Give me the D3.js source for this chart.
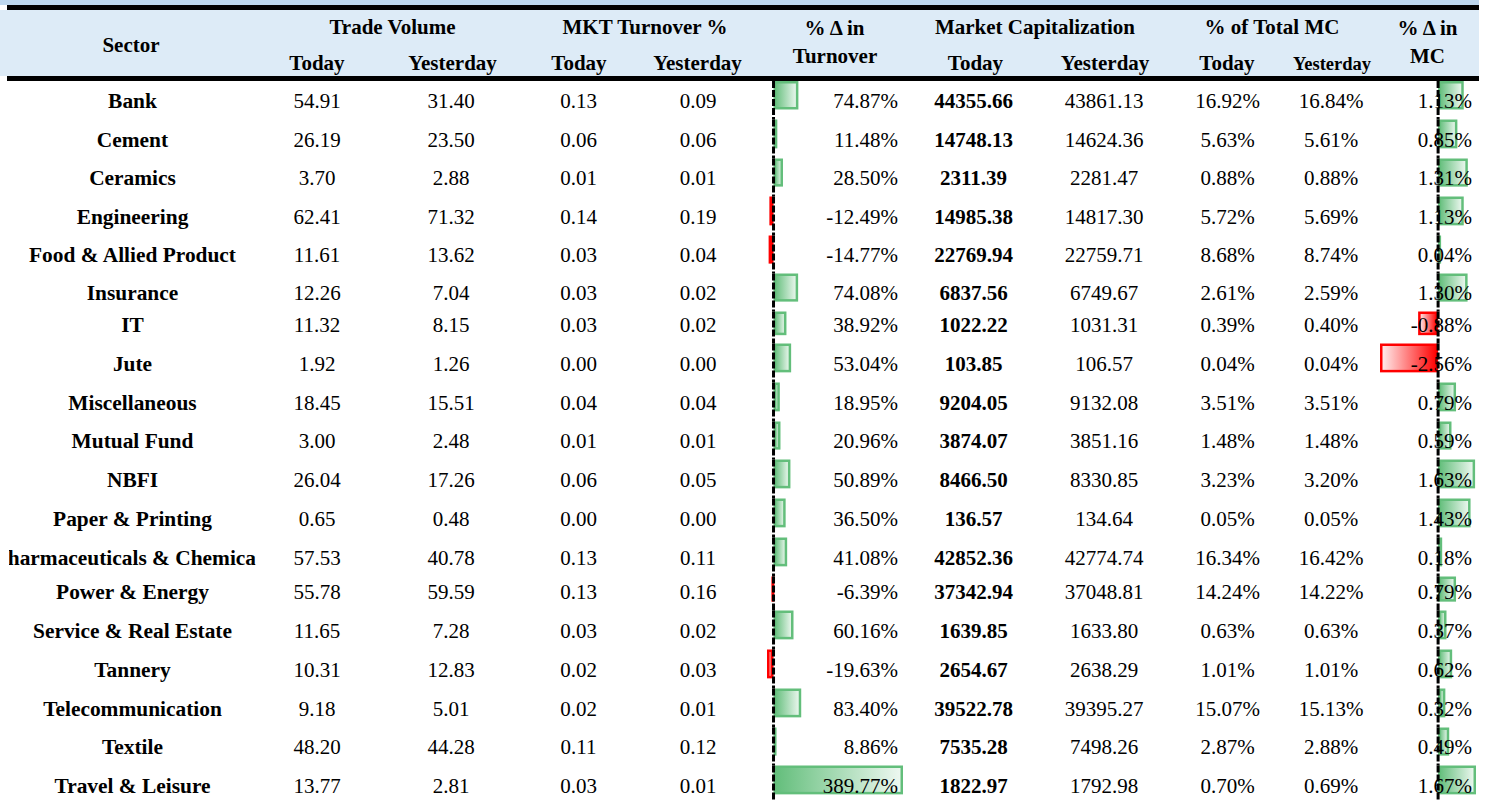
<!DOCTYPE html>
<html>
<head>
<meta charset="utf-8">
<script src="https://cdn.jsdelivr.net/npm/d3@7"></script>
<style>
  html, body { margin: 0; padding: 0; background: #fff; }
  svg { display: block; }
  text { font-family: "Liberation Serif", "Times New Roman", serif; fill: #000; }
</style>
</head>
<body>
<svg id="chart" width="1487" height="800"></svg>
<script>
// ---------------- DATA ----------------
const sectors = ["Bank","Cement","Ceramics","Engineering","Food & Allied Product","Insurance","IT","Jute",
  "Miscellaneous","Mutual Fund","NBFI","Paper & Printing","Pharmaceuticals & Chemicals","Power & Energy",
  "Service & Real Estate","Tannery","Telecommunication","Textile","Travel & Leisure"];
const tradeVolumeToday     = [54.91,26.19,3.70,62.41,11.61,12.26,11.32,1.92,18.45,3.00,26.04,0.65,57.53,55.78,11.65,10.31,9.18,48.20,13.77];
const tradeVolumeYesterday = [31.40,23.50,2.88,71.32,13.62,7.04,8.15,1.26,15.51,2.48,17.26,0.48,40.78,59.59,7.28,12.83,5.01,44.28,2.81];
const turnoverPctToday     = [0.13,0.06,0.01,0.14,0.03,0.03,0.03,0.00,0.04,0.01,0.06,0.00,0.13,0.13,0.03,0.02,0.02,0.11,0.03];
const turnoverPctYesterday = [0.09,0.06,0.01,0.19,0.04,0.02,0.02,0.00,0.04,0.01,0.05,0.00,0.11,0.16,0.02,0.03,0.01,0.12,0.01];
const turnoverChange       = [74.87,11.48,28.50,-12.49,-14.77,74.08,38.92,53.04,18.95,20.96,50.89,36.50,41.08,-6.39,60.16,-19.63,83.40,8.86,389.77];
const mcToday     = [44355.66,14748.13,2311.39,14985.38,22769.94,6837.56,1022.22,103.85,9204.05,3874.07,8466.50,136.57,42852.36,37342.94,1639.85,2654.67,39522.78,7535.28,1822.97];
const mcYesterday = [43861.13,14624.36,2281.47,14817.30,22759.71,6749.67,1031.31,106.57,9132.08,3851.16,8330.85,134.64,42774.74,37048.81,1633.80,2638.29,39395.27,7498.26,1792.98];
const mcSharePctToday     = [16.92,5.63,0.88,5.72,8.68,2.61,0.39,0.04,3.51,1.48,3.23,0.05,16.34,14.24,0.63,1.01,15.07,2.87,0.70];
const mcSharePctYesterday = [16.84,5.61,0.88,5.69,8.74,2.59,0.40,0.04,3.51,1.48,3.20,0.05,16.42,14.22,0.63,1.01,15.13,2.88,0.69];
const mcChange = [1.13,0.85,1.31,1.13,0.04,1.30,-0.88,-2.56,0.79,0.59,1.63,1.43,0.18,0.79,0.37,0.62,0.32,0.49,1.67];

// header labels
const groupHeaders = ["Trade Volume","MKT Turnover %","Market Capitalization","% of Total MC"];
const subHeaders = ["Today","Yesterday"];

// ---------------- LAYOUT ----------------
const rowHeights = [38.5,39,38,39,38,38,32,39,39,38,39,39,39,34,39,39,39,38,39];
const bodyTop = 81;
const tops = [];
rowHeights.reduce((acc, h) => { tops.push(acc); return acc + h; }, bodyTop);
const yTop = d3.scaleOrdinal().domain(sectors).range(tops);
const hOf = d3.scaleOrdinal().domain(sectors).range(rowHeights);

const svg = d3.select("#chart");
const locale = d3.formatLocale({decimal: ".", thousands: ",", grouping: [3], currency: ["", ""], minus: "-"});
const fmt2 = locale.format(".2f");
const pct = v => fmt2(v) + "%";
const FS = 21;

// header backgrounds
svg.append("rect").attr("x",0).attr("y",0).attr("width",1479).attr("height",5).attr("fill","#bdd7ee");
svg.append("rect").attr("x",0).attr("y",10).attr("width",1479).attr("height",66).attr("fill","#ddebf7");
svg.append("rect").attr("x",7).attr("y",5).attr("width",1472).attr("height",5).attr("fill","#000");
svg.append("rect").attr("x",7).attr("y",76).attr("width",1472).attr("height",5).attr("fill","#000");

// header text
const hdr = svg.append("g").attr("font-weight","bold").attr("font-size",FS).attr("text-anchor","middle");
hdr.append("text").attr("x",131).attr("y",51.5).text("Sector");
const groupX = [392.5, 645, 1035, 1272];
groupHeaders.forEach((g,i)=> hdr.append("text").attr("x",groupX[i]).attr("y",34).text(g));
const subX = [[317,452.5],[579,697.5],[975.5,1105],[1227,1332]];
subX.forEach((pair,gi)=> pair.forEach((x,si)=> {
  const t = hdr.append("text").attr("x",x).attr("y",69.5).text(subHeaders[si]);
  if (gi === 3 && si === 1) t.attr("font-size",18.5);
}));
hdr.append("text").attr("x",834.5).attr("y",35).text("% \u0394 in");
hdr.append("text").attr("x",835).attr("y",63.3).text("Turnover");
hdr.append("text").attr("x",1427.5).attr("y",35).text("% \u0394 in");
hdr.append("text").attr("x",1427.5).attr("y",63.3).text("MC");

// gradients
const defs = svg.append("defs");
const gPos = defs.append("linearGradient").attr("id","gpos").attr("x1","0").attr("x2","1").attr("y1","0").attr("y2","0");
gPos.append("stop").attr("offset","0").attr("stop-color","#63be7b");
gPos.append("stop").attr("offset","1").attr("stop-color","#eef8f1");
const gNeg = defs.append("linearGradient").attr("id","gneg").attr("x1","0").attr("x2","1").attr("y1","0").attr("y2","0");
gNeg.append("stop").attr("offset","0").attr("stop-color","#fff0f0");
gNeg.append("stop").attr("offset","1").attr("stop-color","#ff0000");
defs.append("clipPath").attr("id","sectorClip").append("rect").attr("x",9).attr("y",0).attr("width",246.5).attr("height",800);

// scales for data bars (Excel-like: axis placed proportionally)
const xTurn = d3.scaleLinear().domain(d3.extent(turnoverChange)).range([767, 903]);
const xMc = d3.scaleLinear().domain(d3.extent(mcChange)).range([1380, 1476]);

const rows = sectors.map((s,i)=>({s,i}));
const baseline = d => yTop(d.s) + hOf(d.s) - 12;
const barH = d => hOf(d.s) * 0.74;

function drawBars(values, x) {
  const g = svg.append("g");
  g.selectAll("rect").data(rows).join("rect")
    .attr("x", d => Math.min(x(0), x(values[d.i])) + 1.25)
    .attr("y", d => yTop(d.s) + 1.25)
    .attr("width", d => Math.max(0.5, Math.abs(x(values[d.i]) - x(0)) - 2.5))
    .attr("height", d => barH(d) - 2.5)
    .attr("fill", d => values[d.i] >= 0 ? "url(#gpos)" : "url(#gneg)")
    .attr("stroke", d => values[d.i] >= 0 ? "#63be7b" : "#ff0000")
    .attr("stroke-width", 2.5);
}
drawBars(turnoverChange, xTurn);
drawBars(mcChange, xMc);

// body text
function col(values, x, opts = {}) {
  const g = svg.append("g").attr("font-size", opts.fs || FS)
    .attr("text-anchor", opts.anchor || "middle")
    .attr("font-weight", opts.bold ? "bold" : "normal");
  if (opts.clip) g.attr("clip-path", "url(#sectorClip)");
  g.selectAll("text").data(rows).join("text")
    .attr("x", x).attr("y", baseline)
    .text(d => opts.f ? opts.f(values[d.i]) : values[d.i]);
}
col(sectors, 132.5, {bold:true, clip:true, fs:21.4});
col(tradeVolumeToday, 317, {f:fmt2});
col(tradeVolumeYesterday, 451, {f:fmt2});
col(turnoverPctToday, 578.5, {f:fmt2});
col(turnoverPctYesterday, 698, {f:fmt2});
col(turnoverChange, 898, {f:pct, anchor:"end"});
col(mcToday, 973.5, {f:fmt2, bold:true});
col(mcYesterday, 1104, {f:fmt2});
col(mcSharePctToday, 1227.5, {f:pct});
col(mcSharePctYesterday, 1331, {f:pct});
col(mcChange, 1472, {f:pct, anchor:"end"});

// dashed axes
[xTurn, xMc].forEach(x => {
  svg.append("g").selectAll("line").data(rows).join("line")
    .attr("x1", x(0)).attr("x2", x(0))
    .attr("y1", d => yTop(d.s)).attr("y2", d => yTop(d.s) + hOf(d.s))
    .attr("stroke", "#000").attr("stroke-width", 3)
    .attr("stroke-dasharray", "7,2");
});
</script>
</body>
</html>
